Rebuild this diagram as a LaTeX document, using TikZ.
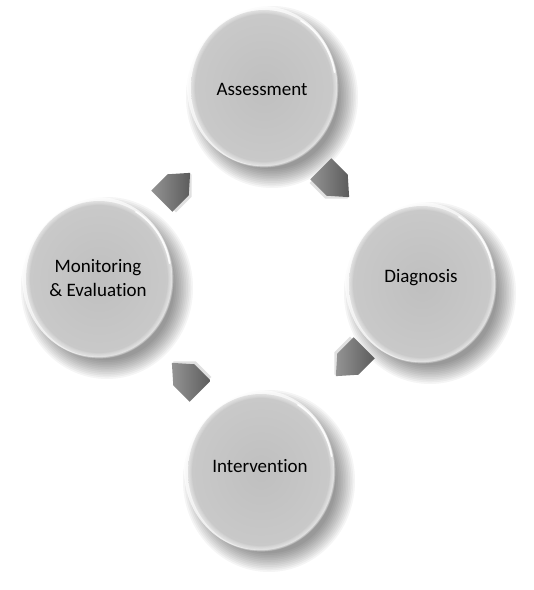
\documentclass[tikz,border=0pt]{standalone}
\usepackage{fontspec}
\setmainfont[RawFeature={-liga}]{Carlito}
\usetikzlibrary{shapes.geometric}
\tikzset{
  x=1pt,y=-1pt,
  lbl/.style={font=\fontsize{19}{23.5}\selectfont, text=black, align=center},
  arrowfill/.style={left color=black!42, right color=black!64, draw=none},
}
\newcommand{\softcircle}[3]{%
  % soft shadow
  \foreach \k in {0,...,11} {
    \fill[black, opacity=0.04] (#1+8,#2+9) ellipse [x radius={73+13-\k*1.7}, y radius={78+13-\k*1.7}];
  }
  % soft white halo top-left
  \fill[white, opacity=0.7] (#1-2,#2-2) ellipse [x radius=75, y radius=80];
  % body
  \shade[inner color=black!25, outer color=black!21] (#1,#2) ellipse [x radius=73, y radius=78];
  % soft edge
  \foreach \k in {0,...,4} {
    \draw[white, opacity=0.12, line width={1.2+\k*1.1}] (#1,#2) ellipse [x radius={73-\k*0.3}, y radius={78-\k*0.3}];
  }
  % bright rim bottom-right
  \draw[white, line width=1.6, opacity=0.9] ([shift={(-60:73 and 78)}]#1,#2) arc [start angle=-60, end angle=-10, x radius=70.5, y radius=75.5];
  \node[lbl] (#3) at (#1,#2) {};
}
\newcommand{\blockarrow}[3]{%
  \begin{scope}[shift={(#1,#2)}, rotate=#3]
    \fill[black, opacity=0.12] (-18,-13) -- (4,-13) -- (20,2) -- (4,18) -- (-18,18) -- cycle;
    \shade[arrowfill] (-20,-15) -- (3,-15) -- (20,0) -- (3,15) -- (-20,15) -- cycle;
  \end{scope}
}
\begin{document}
\begin{tikzpicture}
\useasboundingbox (0,0) rectangle (534,590);
\fill[white] (0,0) rectangle (534,590);

\softcircle{264}{88}{cA}
\softcircle{422}{284}{cD}
\softcircle{261}{472}{cI}
\softcircle{99}{279}{cM}

\node[lbl] (tA) at (262,89) {Assessment};
\node[lbl] (tD) at (421,278) {Diagnosis};
\node[lbl] (tI) at (260,466) {Intervention};
\node[lbl] (tM) at (98,278) {Monitoring\\\& Evaluation};

\blockarrow{176}{187}{45}
\blockarrow{335}{183}{-45}
\blockarrow{350}{362}{-135}
\blockarrow{186}{377}{135}
\end{tikzpicture}
\end{document}
